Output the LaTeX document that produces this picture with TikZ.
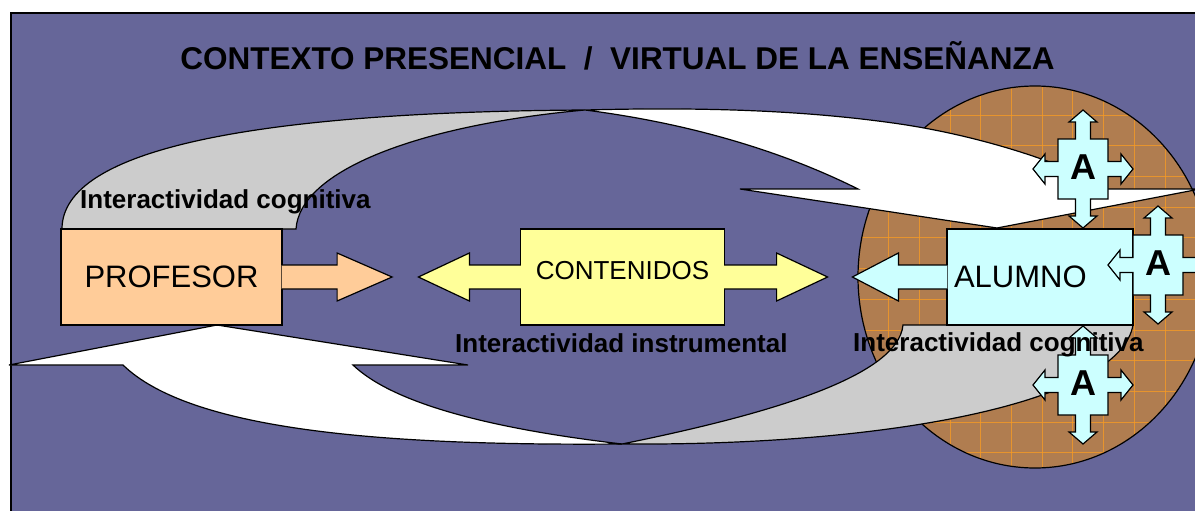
\documentclass[tikz,border=0pt]{standalone}
\usepackage{fontspec}
\setmainfont{Liberation Sans}

\definecolor{slide}{HTML}{666699}
\definecolor{peach}{HTML}{FFCC99}
\definecolor{lemon}{HTML}{FFFF99}
\definecolor{ice}{HTML}{CCFFFF}
\definecolor{tailgray}{HTML}{CCCCCC}
\definecolor{clay}{HTML}{B07D50}
\definecolor{gridorange}{HTML}{F59A25}

\tikzset{
  box/.style={draw, line width=1.2pt, minimum height=96pt, inner sep=0pt},
  callout/.style={draw, line width=1.2pt},
  tailband/.style={draw, fill=tailgray, line width=1.2pt},
  frontband/.style={draw, fill=white, line width=1.2pt},
  gridline/.style={gridorange, line width=0.8pt, opacity=0.8},
  lbl/.style={font=\bfseries\fontsize{26}{30}\selectfont, inner sep=0pt},
  letter/.style={font=\bfseries\fontsize{36}{40}\selectfont, inner sep=0pt, yshift=2pt}
}

% four-way arrow box with an A inside: name, x, y
\newcommand{\quadarrow}[3]{%
  \draw[callout, fill=ice, shift={(#2,#3)}] (0,-59) -- (14,-47) -- (7.5,-47) -- (7.5,-30) -- (25,-30) -- (25,-7.5) -- (38,-7.5) -- (38,-15) -- (50,0) -- (38,15) -- (38,7.5) -- (25,7.5) -- (25,30) -- (7.5,30) -- (7.5,47) -- (14,47) -- (0,59) -- (-14,47) -- (-7.5,47) -- (-7.5,30) -- (-25,30) -- (-25,7.5) -- (-38,7.5) -- (-38,15) -- (-50,0) -- (-38,-15) -- (-38,-7.5) -- (-25,-7.5) -- (-25,-30) -- (-7.5,-30) -- (-7.5,-47) -- (-14,-47) -- cycle;
  \node[letter] (#1) at (#2,#3) {A};
}

\begin{document}
\begin{tikzpicture}[x=1pt, y=-1pt]
\useasboundingbox (0,0) rectangle (1195,511);
\clip (0,0) rectangle (1195,511);

% slide background
\draw[fill=slide, line width=1.5pt] (11,13) rectangle (1215,530);

% title
\node[anchor=base, font=\bfseries\fontsize{31.5}{36}\selectfont] (title) at (617.5,70) {CONTEXTO PRESENCIAL\ \ /\ \ VIRTUAL DE LA ENSEÑANZA};

% student area: ellipse with grid
\begin{scope}
\clip (1035,277) ellipse [x radius=177, y radius=191];
\fill[clay] (850,80) rectangle (1220,475);
\foreach \k in {-3,...,8} \draw[gridline] ({950+30.7*\k},80) -- ({950+30.7*\k},475);
\foreach \k in {-1,...,12} \draw[gridline] (850,{115+30.7*\k}) -- (1220,{115+30.7*\k});
\end{scope}
\draw[line width=1.2pt] (1035,277) ellipse [x radius=177, y radius=191];

% upper curved arrow (profesor -> alumno)
\draw[tailband] (62,229) .. controls (62,150) and (250,112) .. (585,110) .. controls (420,125) and (300,170) .. (296,229) -- cycle;
\draw[frontband] (585,110) .. controls (700,107) and (800,110) .. (893,123) .. controls (980,135) and (1070,165) .. (1108,189) -- (1200,189) -- (997,228) -- (740,189) -- (858,189) .. controls (800,160) and (710,126) .. (585,110) -- cycle;

% lower curved arrow (alumno -> profesor)
\draw[frontband] (217,325) -- (468,365) -- (353,365) .. controls (400,410) and (520,432) .. (622,444) .. controls (380,446) and (190,430) .. (123,365) -- (9,365) -- cycle;
\draw[tailband] (903,325) -- (1133,325) .. controls (1120,400) and (900,446) .. (622,444) .. controls (760,416) and (898,378) .. (903,325) -- cycle;

% boxes
\node[box, fill=peach, minimum width=221pt, font=\fontsize{31}{36}\selectfont] (prof) at (171.5,277) {PROFESOR};
\node[box, fill=lemon, minimum width=204pt, text depth=14pt, font=\fontsize{26}{30}\selectfont] (cont) at (622.5,277) {CONTENIDOS};
\node[box, fill=ice, text width=172pt, inner xsep=7pt, align=left, font=\fontsize{31}{36}\selectfont] (alum) at (1040,277) {ALUMNO};

% block arrows leaving the boxes
\filldraw[callout, fill=peach] ([xshift=-1pt]prof.east) ++(0,-12) -- ++(55.5,0) -- ++(0,-12) -- ++(55,24) -- ++(-55,24) -- ++(0,-12) -- ++(-55.5,0);
\filldraw[callout, fill=lemon] ([xshift=1pt]cont.west) ++(0,-12) -- ++(-51.5,0) -- ++(0,-12) -- ++(-51,24) -- ++(51,24) -- ++(0,-12) -- ++(51.5,0);
\filldraw[callout, fill=lemon] ([xshift=-1pt]cont.east) ++(0,-12) -- ++(52.5,0) -- ++(0,-12) -- ++(51,24) -- ++(-51,24) -- ++(0,-12) -- ++(-52.5,0);
\filldraw[callout, fill=ice] ([xshift=1pt]alum.west) ++(0,-12) -- ++(-49,0) -- ++(0,-12) -- ++(-46,24) -- ++(46,24) -- ++(0,-12) -- ++(49,0);

% the three A boxes
\quadarrow{atop}{1083}{169}
\quadarrow{aright}{1158}{265}
\quadarrow{abottom}{1083}{385}

% labels
\node[lbl, anchor=base west] (cogtop) at (80,208) {Interactividad cognitiva};
\node[lbl, anchor=base west] (instr) at (455,352) {Interactividad instrumental};
\node[lbl, anchor=base west] (cogbot) at (853,351) {Interactividad cognitiva};
\end{tikzpicture}
\end{document}
